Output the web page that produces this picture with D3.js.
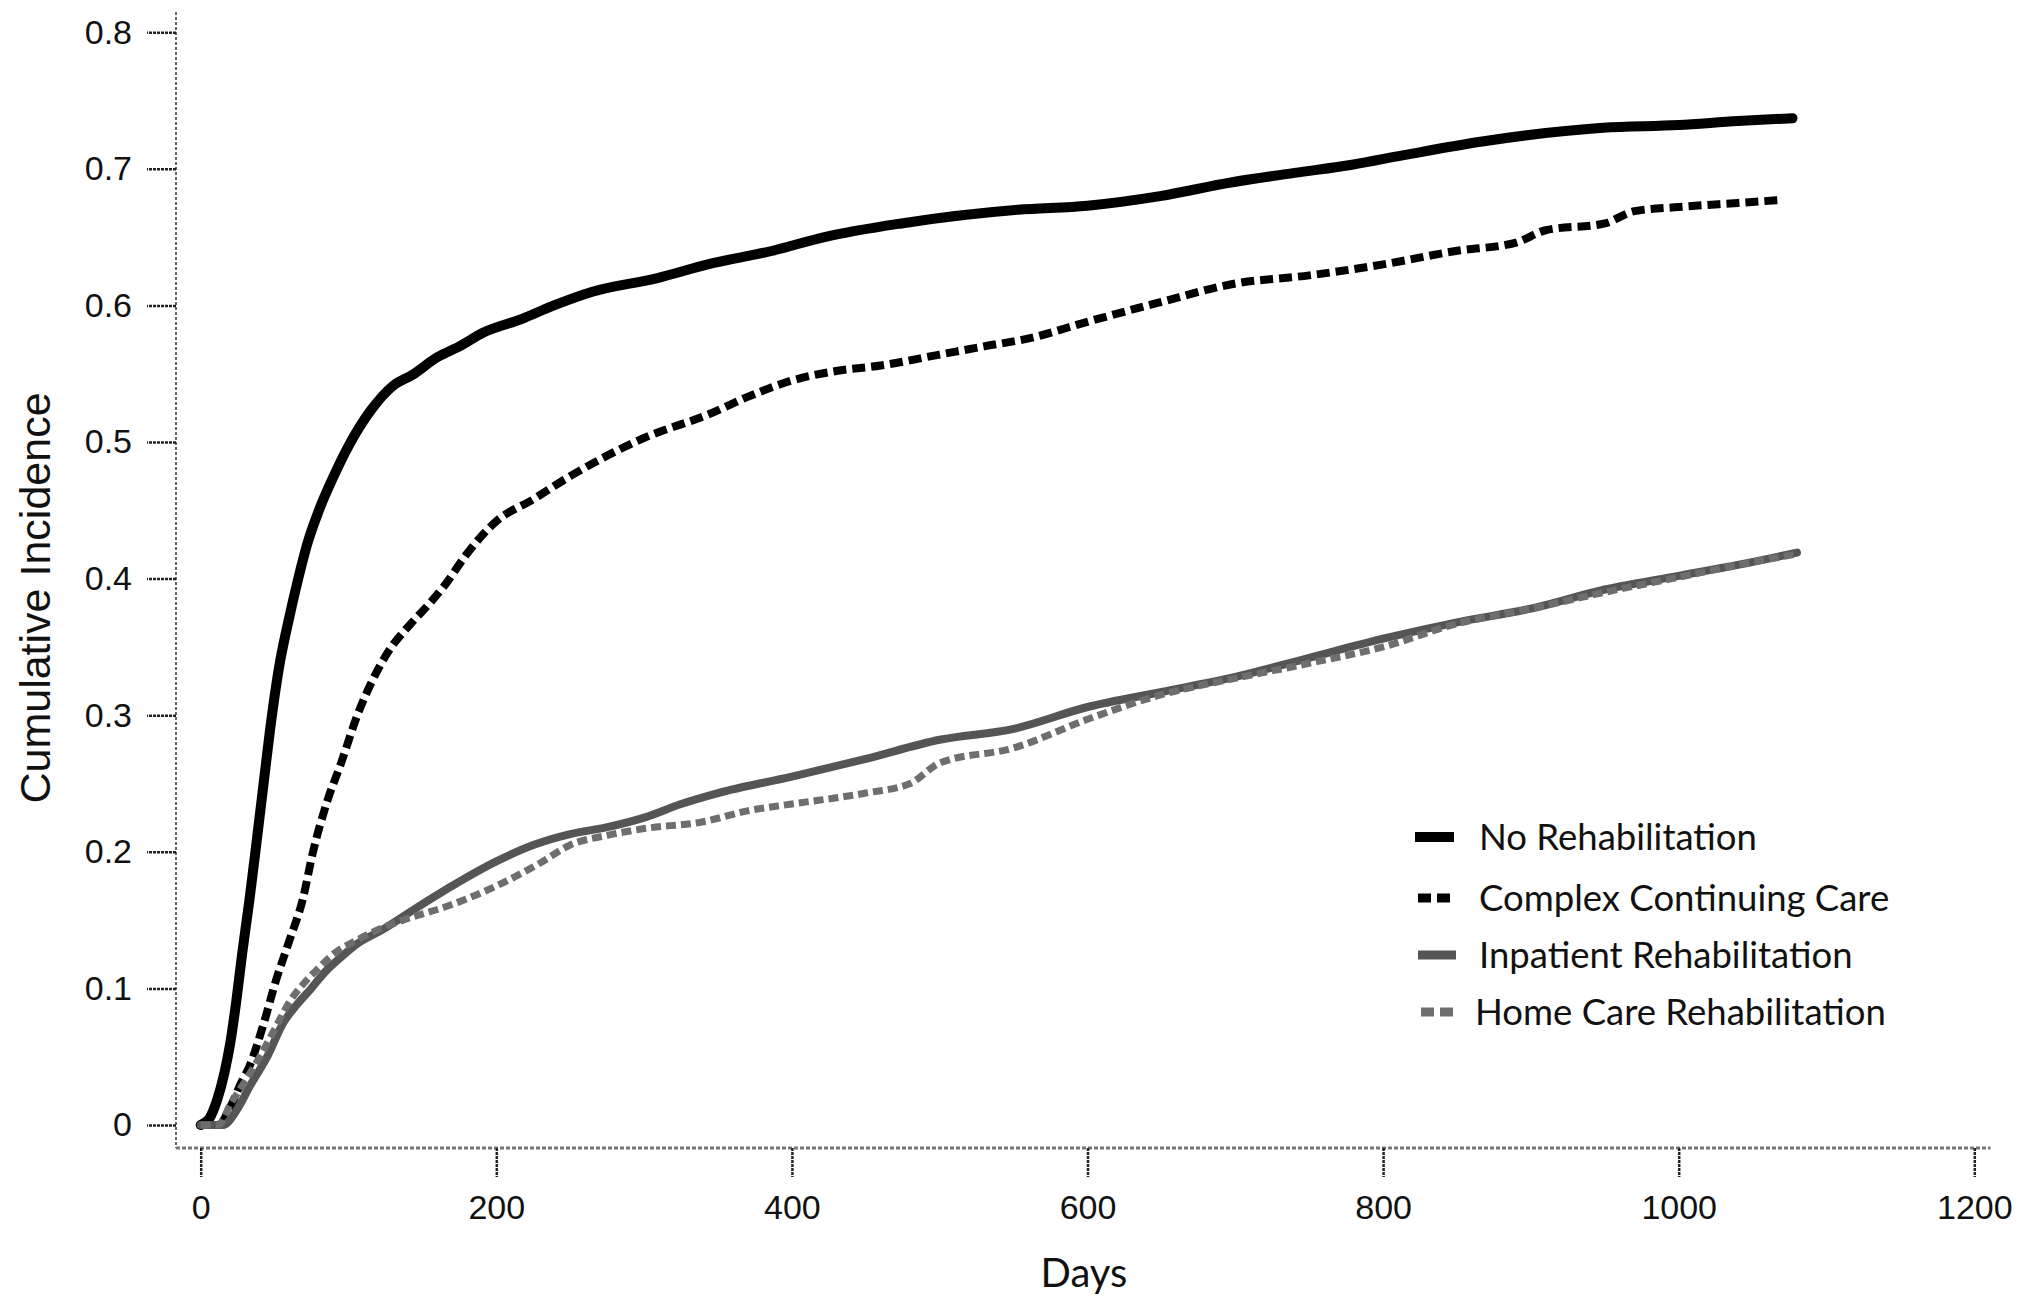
<!DOCTYPE html>
<html>
<head>
<meta charset="utf-8">
<script src="https://cdn.jsdelivr.net/npm/d3@7"></script>
<style>
	body { margin: 0; background: #fff; }
	.tick text { font-family: "Liberation Sans", Arial, sans-serif; font-size: 34px; fill: #111; }
	.axis-label { font-family: "Liberation Sans", Arial, sans-serif; fill: #111; }
	.legend text { font-family: Lato, "Open Sans", sans-serif; font-size: 36.5px; fill: #111; }
</style>
</head>
<body>
<div id="chart"></div>
<script>
// cumulative incidence, by series
const noRehabDays = [0, 6, 11, 16, 20, 24, 28, 33, 37, 42, 47, 53, 60, 66, 72, 80, 90, 100, 115, 130, 143, 160, 175, 191, 217, 239, 265, 309, 343, 387, 422, 474, 553, 600, 649, 697, 740, 779, 814, 867, 949, 1000, 1040, 1077];
const noRehabVals = [0, 0.005, 0.018, 0.038, 0.06, 0.09, 0.125, 0.165, 0.2, 0.245, 0.29, 0.335, 0.372, 0.4, 0.425, 0.45, 0.475, 0.497, 0.523, 0.541, 0.549, 0.562, 0.57, 0.58, 0.59, 0.6, 0.61, 0.62, 0.63, 0.64, 0.65, 0.66, 0.67, 0.673, 0.68, 0.69, 0.697, 0.703, 0.71, 0.72, 0.73, 0.732, 0.735, 0.737];

const complexDays = [0, 12, 20, 27, 33, 42, 51, 60, 69, 76, 85, 95, 106, 116, 126, 143, 155, 165, 180, 200, 225, 250, 275, 300, 343, 370, 400, 430, 460, 500, 530, 561, 600, 648, 700, 750, 800, 850, 890, 910, 950, 970, 1000, 1040, 1067];
const complexVals = [0, 0, 0.013, 0.03, 0.043, 0.072, 0.106, 0.135, 0.165, 0.2, 0.235, 0.265, 0.3, 0.325, 0.345, 0.368, 0.382, 0.395, 0.418, 0.442, 0.458, 0.475, 0.49, 0.503, 0.52, 0.533, 0.545, 0.552, 0.556, 0.564, 0.57, 0.576, 0.588, 0.602, 0.616, 0.622, 0.63, 0.64, 0.646, 0.655, 0.66, 0.669, 0.672, 0.675, 0.677];

const inpatientDays = [0, 15, 25, 33, 45, 56, 65, 74, 85, 92, 105, 123, 146, 170, 200, 225, 250, 275, 300, 325, 350, 400, 450, 500, 550, 600, 650, 700, 750, 800, 850, 900, 950, 1000, 1040, 1080];
const inpatientVals = [0, 0, 0.012, 0.028, 0.05, 0.075, 0.088, 0.099, 0.113, 0.12, 0.132, 0.143, 0.159, 0.175, 0.193, 0.205, 0.213, 0.218, 0.225, 0.235, 0.243, 0.255, 0.268, 0.282, 0.29, 0.306, 0.317, 0.328, 0.342, 0.356, 0.368, 0.378, 0.392, 0.402, 0.41, 0.419];

const homeCareDays = [0, 12, 20, 30, 40, 50, 60, 70, 78, 92, 105, 120, 137, 169, 200, 230, 250, 275, 300, 340, 370, 400, 450, 480, 500, 550, 600, 650, 700, 750, 800, 850, 900, 950, 1000, 1040, 1080];
const homeCareVals = [0, 0, 0.015, 0.032, 0.05, 0.07, 0.09, 0.104, 0.113, 0.127, 0.135, 0.143, 0.15, 0.161, 0.175, 0.192, 0.205, 0.212, 0.217, 0.222, 0.23, 0.235, 0.243, 0.25, 0.265, 0.276, 0.297, 0.315, 0.327, 0.338, 0.35, 0.367, 0.378, 0.39, 0.401, 0.41, 0.418];

const seriesNames = ["No Rehabilitation", "Complex Continuing Care", "Inpatient Rehabilitation", "Home Care Rehabilitation"];
const xTicks = [0, 200, 400, 600, 800, 1000, 1200];
const yTicks = [0, 0.1, 0.2, 0.3, 0.4, 0.5, 0.6, 0.7, 0.8];

const width = 2020;
const height = 1298;

const svg = d3.select("#chart")
	.append("svg")
	.attr("width", width)
	.attr("height", height);

// scales
const xScale = d3.scaleLinear().domain([0, 1200]).range([200.7, 1974.3]);
const yScale = d3.scaleLinear().domain([0, 0.8]).range([1125, 32.2]);
const xAxisY = 1148;
const yAxisX = 176;

// axis lines (dotted grey, like the original)
svg.append("line")
	.attr("x1", yAxisX).attr("x2", yAxisX)
	.attr("y1", 12).attr("y2", xAxisY)
	.attr("stroke", "#666").attr("stroke-width", 2)
	.attr("stroke-dasharray", "3,2");
svg.append("line")
	.attr("x1", yAxisX).attr("x2", xScale(1211))
	.attr("y1", xAxisY).attr("y2", xAxisY)
	.attr("stroke", "#777").attr("stroke-width", 3)
	.attr("stroke-dasharray", "4,2");

// axes
const xAxis = d3.axisBottom(xScale)
	.tickValues(xTicks)
	.tickSize(29)
	.tickPadding(18)
	.tickFormat(d3.format("d"));
svg.append("g")
	.attr("class", "axis")
	.attr("transform", `translate(0, ${xAxisY})`)
	.call(xAxis)
	.call(g => g.select(".domain").remove());

const yAxis = d3.axisLeft(yScale)
	.tickValues(yTicks)
	.tickSize(29)
	.tickPadding(15)
	.tickFormat(d => d === 0 ? "0" : d3.format(".1f")(d));
svg.append("g")
	.attr("class", "axis")
	.attr("transform", `translate(${yAxisX}, 0)`)
	.call(yAxis)
	.call(g => g.select(".domain").remove());

svg.selectAll(".tick line")
	.attr("stroke", "#222")
	.attr("stroke-width", 2.5)
	.attr("stroke-dasharray", "3,1");

// axis labels
svg.append("text")
	.attr("class", "axis-label")
	.attr("transform", "translate(50, 598) rotate(-90)")
	.attr("text-anchor", "middle")
	.style("font-size", "43px")
	.text("Cumulative Incidence");

svg.append("text")
	.attr("class", "axis-label")
	.attr("x", 1084)
	.attr("y", 1287)
	.attr("text-anchor", "middle")
	.style("font-family", "Lato, 'Open Sans', sans-serif")
	.style("font-size", "40px")
	.text("Days");

// curves
const styles = [
	{ color: "#000", width: 10, dash: null, cap: "round" },
	{ color: "#000", width: 8, dash: "13,6", cap: "butt" },
	{ color: "#555", width: 8, dash: null, cap: "round" },
	{ color: "#6e6e6e", width: 7, dash: "10,5", cap: "butt" },
];
const series = [
	d3.zip(noRehabDays, noRehabVals),
	d3.zip(complexDays, complexVals),
	d3.zip(inpatientDays, inpatientVals),
	d3.zip(homeCareDays, homeCareVals),
];

const line = d3.line()
	.x(d => xScale(d[0]))
	.y(d => yScale(d[1]))
	.curve(d3.curveMonotoneX);

series.forEach((data, i) => {
	svg.append("path")
		.datum(data)
		.attr("d", line)
		.attr("fill", "none")
		.attr("stroke", styles[i].color)
		.attr("stroke-width", styles[i].width)
		.attr("stroke-linecap", styles[i].cap)
		.attr("stroke-linejoin", "round")
		.attr("stroke-dasharray", styles[i].dash);
});

// legend
const legendRows = [837, 898, 955, 1012];
const swatch = [[1415, 1454], [1418, 1451], [1418, 1456], [1421, 1454]];
const legend = svg.append("g").attr("class", "legend");
seriesNames.forEach((name, i) => {
	legend.append("line")
		.attr("x1", swatch[i][0]).attr("x2", swatch[i][1])
		.attr("y1", legendRows[i]).attr("y2", legendRows[i])
		.attr("stroke", styles[i].color)
		.attr("stroke-width", i === 0 ? 10 : 9)
		.attr("stroke-dasharray", styles[i].dash ? "13,6" : null);
	legend.append("text")
		.attr("x", i === 3 ? 1475 : 1479)
		.attr("y", legendRows[i] + 12.5)
		.text(name);
});
</script>
</body>
</html>
